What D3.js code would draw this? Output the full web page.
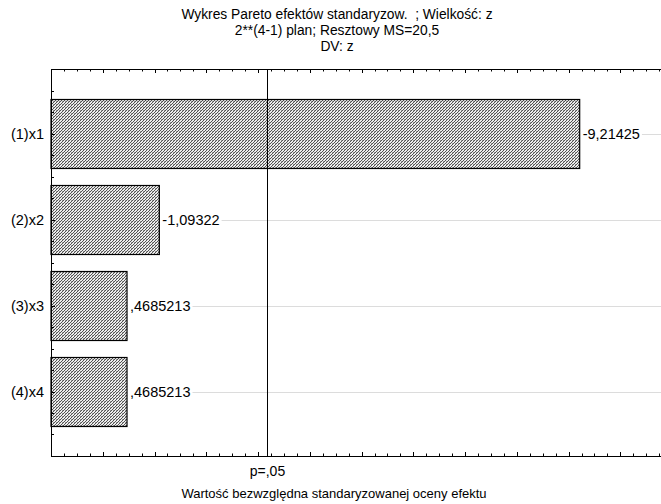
<!DOCTYPE html>
<html>
<head>
<meta charset="utf-8">
<script src="https://cdn.jsdelivr.net/npm/d3@7"></script>
<style>
  html, body { margin: 0; padding: 0; background: #fff; }
  svg { display: block; font-family: "Liberation Sans", Arial, sans-serif; }
  text { white-space: pre; }
</style>
</head>
<body>
<svg id="chart" width="661" height="504"></svg>
<script>
// ---- data ----
const categories = ["(1)x1", "(2)x2", "(3)x3", "(4)x4"];
const effects = [-9.21425, -1.09322, 0.4685213, 0.4685213];
const valueLabels = ["-9,21425", "-1,09322", ",4685213", ",4685213"];
const criticalValue = 3.182446;   // t(0.975, 3)
const criticalLabel = "p=,05";
const titleLines = [
  "Wykres Pareto efektów standaryzow.  ; Wielkość: z",
  "2**(4-1) plan; Resztowy MS=20,5",
  "DV: z"
];
const xTitle = "Wartość bezwzględna standaryzowanej oceny efektu";
const xDomain = [-1, 11];
const yDomain = [0.25, 4.75];

(function () {
// ---- layout ----
const svg = d3.select("#chart");
const pLeft = 51, pTop = 69, pBottom = 456;
const pxPerUnit = 51.76;
const x = d3.scaleLinear().domain(xDomain).range([pLeft, pLeft + (xDomain[1] - xDomain[0]) * pxPerUnit]);
const y = d3.scaleLinear().domain(yDomain).range([pTop, pBottom]);
const W = 661;

// hatch pattern (fine diagonal hatch with dots)
const defs = svg.append("defs");
const pat = defs.append("pattern").attr("id", "hatch").attr("patternUnits", "userSpaceOnUse")
  .attr("width", 3).attr("height", 3).attr("shape-rendering", "crispEdges");
pat.append("rect").attr("width", 3).attr("height", 3).attr("fill", "#ececec");
[[0, 2], [1, 1], [2, 0]].forEach(p =>
  pat.append("rect").attr("x", p[0]).attr("y", p[1]).attr("width", 1).attr("height", 1).attr("fill", "#505050"));
[[2, 2]].forEach(p =>
  pat.append("rect").attr("x", p[0]).attr("y", p[1]).attr("width", 1).attr("height", 1).attr("fill", "#9a9a9a"));

// title
svg.append("g").selectAll("text").data(titleLines).join("text")
  .attr("x", 337).attr("y", (d, i) => 19 + i * 16)
  .attr("text-anchor", "middle").attr("font-size", 13.8).attr("fill", "#000")
  .text(d => d);

const labelG = svg.append("g");
const bars = svg.append("g");
categories.forEach((c, i) => {
  const v = Math.abs(effects[i]);
  const yc = y(i + 1);
  const hh = y(1.4) - y(1);
  bars.append("rect")
    .attr("x", x(xDomain[0])).attr("y", Math.round(yc - hh) + 0.5)
    .attr("width", x(v) - x(xDomain[0])).attr("height", Math.round(2 * hh))
    .attr("fill", "url(#hatch)").attr("stroke", "#000").attr("stroke-width", 1.2);
  const t = labelG.append("text")
    .attr("x", x(v) + 3).attr("y", yc).attr("dy", "0.35em")
    .attr("font-size", 14.5).attr("fill", "#000").text(valueLabels[i]);
  const tw = t.node().getComputedTextLength();
  labelG.insert("line", ":first-child")
    .attr("x1", x(v) + 5 + tw).attr("x2", W).attr("y1", Math.round(yc) + 0.5).attr("y2", Math.round(yc) + 0.5)
    .attr("stroke", "#dcdcdc").attr("stroke-width", 1);
  svg.append("text").attr("x", 44).attr("y", yc).attr("dy", "0.35em")
    .attr("text-anchor", "end").attr("font-size", 14.5).attr("fill", "#000").text(c);
});

// axes ticks
const axG = svg.append("g").attr("stroke", "#000").attr("stroke-width", 1);
const xTicks = d3.range(xDomain[0], xDomain[1] + 0.001, 0.25);
xTicks.forEach(v => {
  const major = Math.abs(v - Math.round(v)) < 1e-6;
  const len = major ? 4 : 2.5;
  const px = Math.round(x(v)) + 0.5;
  axG.append("line").attr("x1", px).attr("x2", px).attr("y1", pTop).attr("y2", pTop + len);
  axG.append("line").attr("x1", px).attr("x2", px).attr("y1", pBottom).attr("y2", pBottom - len);
});
const yTicks = d3.range(yDomain[0], yDomain[1] + 0.001, 0.25);
yTicks.forEach(v => {
  const major = Math.abs(v - Math.round(v)) < 1e-6;
  const py = Math.round(y(v)) + 0.5;
  axG.append("line").attr("x1", pLeft).attr("x2", pLeft + (major ? 4 : 3)).attr("y1", py).attr("y2", py);
});
// axis lines
axG.append("line").attr("x1", pLeft).attr("x2", W).attr("y1", pTop + 0.5).attr("y2", pTop + 0.5);
axG.append("line").attr("x1", pLeft).attr("x2", W).attr("y1", pBottom + 0.5).attr("y2", pBottom + 0.5);
axG.append("line").attr("x1", pLeft + 0.5).attr("x2", pLeft + 0.5).attr("y1", pTop).attr("y2", pBottom + 1);

// critical line
const cx = Math.round(x(criticalValue)) + 0.5;
svg.append("line").attr("x1", cx).attr("x2", cx).attr("y1", pTop).attr("y2", pBottom)
  .attr("stroke", "#000").attr("stroke-width", 1);
svg.append("text").attr("x", x(criticalValue)).attr("y", 476)
  .attr("text-anchor", "middle").attr("font-size", 14).text(criticalLabel);

// x title
svg.append("text").attr("x", 334).attr("y", 498)
  .attr("text-anchor", "middle").attr("font-size", 13).text(xTitle);
})();
</script>
</body>
</html>
